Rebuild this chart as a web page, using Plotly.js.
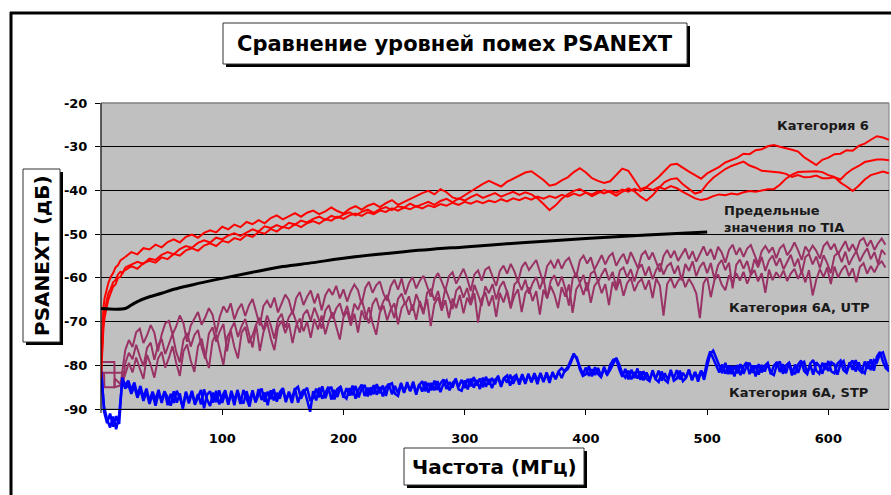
<!DOCTYPE html>
<html>
<head>
<meta charset="utf-8">
<script src="https://cdn.plot.ly/plotly-3.0.1.min.js"></script>
<style>html,body{margin:0;padding:0;background:#fff;}#chart{width:891px;height:495px;}</style>
</head>
<body>
<div id="chart"></div>
<script>
// ---------------- DATA ----------------
const chartTitle = "Сравнение уровней помех PSANEXT";
const xTitle = "Частота (МГц)";
const yTitle = "PSANEXT (дБ)";
const xTickVals = [100, 200, 300, 400, 500, 600];
const yTickVals = [-90, -80, -70, -60, -50, -40, -30, -20];
const seriesLabels = ["Категория 6", "Предельные<br>значения по TIA", "Категория 6A, UTP", "Категория 6A, STP"];

// TIA limit line
const tiaF = [0, 20, 25, 30, 40, 50, 60, 75, 100, 125, 150, 175, 200, 250, 300, 350, 400, 450, 500];
const tiaV = [-67, -67, -66.2, -65.4, -64.3, -63.5, -62.6, -61.6, -60.1, -58.7, -57.4, -56.5, -55.5, -54.0, -52.9, -51.9, -51.0, -50.2, -49.5];

// Category 6 (red): head at fine frequencies, body from 20 MHz in 5 MHz steps
const redHeadF = [0, 1, 2, 3, 4, 5, 6, 8, 10, 12, 14, 16, 18, 20];
const r1Head = [-79.5, -70.5, -66.8, -64.6, -63.2, -62.0, -61.2, -59.8, -58.9, -57.6, -57.1, -56.0, -55.6, -55.2];
const r2Head = [-82, -74, -70, -67.5, -66, -64.5, -63.5, -62.5, -61, -60.5, -59.2, -58.6, -58.9, -57.6];
const r3Head = [-83, -76, -71.5, -69, -67.5, -66, -65, -63.5, -62, -61.5, -60, -59.8, -58.6, -58.2];
const r1 = [
 -55.2,-54.1,-54.6,-53.2,-53.5,-52.4,-53.0,-51.8,-51.2,-51.9,
 -50.6,-50.1,-50.8,-49.7,-49.1,-49.6,-48.3,-48.9,-47.8,-48.4,
 -47.2,-47.7,-46.8,-47.5,-46.3,-45.7,-46.6,-45.9,-45.2,-46.0,
 -45.1,-44.6,-45.4,-44.8,-43.9,-44.7,-45.3,-44.2,-43.6,-44.4,
 -43.5,-43.0,-43.8,-42.9,-42.2,-43.3,-42.6,-41.9,-41.2,-40.6,
 -40.1,-40.9,-39.7,-40.4,-41.6,-42.0,-41.1,-40.2,-39.3,-38.5,
 -37.8,-38.4,-39.1,-38.0,-37.3,-36.6,-35.9,-35.6,-36.5,-37.6,
 -38.9,-38.6,-37.7,-37.0,-35.8,-34.9,-35.9,-37.2,-37.8,-38.3,
 -37.9,-36.4,-35.0,-35.5,-37.6,-39.7,-39.2,-38.1,-36.9,-35.5,
 -34.1,-33.9,-34.9,-35.7,-36.5,-37.3,-36.1,-35.4,-34.6,-33.6,
 -33.0,-32.5,-31.6,-31.7,-30.8,-30.6,-29.9,-29.6,-30.0,-30.3,
 -30.7,-31.1,-32.4,-33.3,-34.2,-33.0,-32.5,-31.7,-31.6,-30.8,
 -30.9,-29.8,-29.3,-28.4,-27.6,-27.9,-28.4];
const r2 = [
 -57.6,-56.9,-56.3,-56.8,-55.6,-55.9,-54.7,-54.1,-54.6,-53.4,
 -52.7,-53.1,-52.0,-51.4,-51.9,-50.8,-51.2,-50.3,-49.8,-50.4,
 -49.6,-48.9,-49.4,-48.2,-48.6,-47.9,-48.5,-47.4,-47.8,-46.9,
 -47.3,-46.5,-46.0,-46.7,-45.8,-46.3,-45.5,-45.0,-45.7,-44.9,
 -44.4,-45.1,-44.3,-43.8,-44.5,-43.6,-43.9,-43.0,-43.7,-43.2,
 -42.6,-43.3,-42.4,-41.9,-42.7,-41.8,-42.3,-41.5,-40.9,-41.7,
 -41.2,-40.6,-41.4,-40.8,-40.3,-41.0,-40.4,-40.9,-41.8,-43.1,
 -44.5,-43.4,-41.9,-40.9,-40.1,-39.7,-40.5,-41.3,-40.6,-39.9,
 -40.4,-41.2,-40.3,-39.5,-40.2,-41.4,-42.3,-41.1,-39.5,-38.1,
 -37.4,-37.2,-38.6,-39.6,-40.7,-40.3,-38.5,-37.1,-36.1,-35.1,
 -34.4,-33.9,-33.4,-34.3,-34.8,-35.5,-35.6,-35.7,-35.9,-36.2,
 -36.9,-36.5,-37.0,-36.9,-36.6,-37.2,-37.2,-37.0,-37.5,-36.1,
 -35.1,-34.4,-33.5,-33.2,-32.9,-32.9,-33.1];
const r3 = [
 -58.2,-57.3,-57.9,-56.6,-56.1,-56.5,-55.3,-55.7,-54.5,-54.9,
 -53.7,-53.2,-53.8,-52.6,-52.1,-52.7,-51.5,-51.9,-50.9,-51.3,
 -50.2,-50.6,-49.5,-49.9,-48.8,-49.4,-48.3,-48.7,-47.7,-48.4,
 -47.5,-47.0,-47.6,-46.6,-46.9,-46.0,-46.5,-45.7,-45.3,-45.8,
 -45.0,-45.4,-44.6,-44.9,-44.1,-44.6,-43.9,-44.3,-43.6,-44.1,
 -43.4,-43.8,-43.1,-43.5,-42.8,-43.3,-42.6,-43.0,-42.4,-42.9,
 -42.3,-42.7,-42.0,-42.5,-41.8,-42.2,-41.6,-42.1,-41.4,-41.9,
 -41.3,-41.7,-41.0,-41.4,-40.7,-41.2,-40.5,-40.9,-40.2,-40.7,
 -40.1,-40.5,-39.8,-40.3,-39.6,-40.1,-39.4,-39.9,-39.2,-39.7,
 -39.0,-39.5,-40.3,-41.1,-41.8,-42.2,-41.9,-41.3,-40.9,-41.1,
 -40.7,-40.9,-40.4,-40.1,-40.3,-40.0,-39.7,-39.7,-38.7,-37.3,
 -36.4,-35.8,-35.7,-35.7,-35.6,-35.8,-36.5,-36.9,-38.2,-39.1,
 -40.1,-38.9,-37.5,-36.5,-36.1,-35.7,-36.1];

// Category 6A UTP (purple): head, then body from 20 MHz in 3 MHz steps
const p1HeadF = [0, 11, 11.3, 16, 20];
const p1Head = [-79.2, -79.2, -85.0, -84.6, -76.5];
const p2HeadF = [0, 18, 18.3, 20];
const p2Head = [-81.7, -81.7, -83.5, -79.5];
const p3HeadF = [2.5, 2.8, 11, 11.3, 17, 20];
const p3Head = [-81.7, -85.0, -85.0, -83.0, -84.5, -82.0];
const p1 = [
 -76.5,-74.2,-75.8,-72.4,-71.6,-74.9,-73.1,-70.8,-72.5,-76.8,
 -73.0,-70.4,-69.8,-72.9,-71.1,-68.6,-70.3,-74.6,-70.9,-69.3,
 -67.8,-70.7,-69.0,-66.9,-68.4,-72.6,-68.8,-66.5,-67.9,-65.8,
 -69.5,-67.2,-65.9,-68.7,-66.3,-64.8,-67.6,-70.9,-66.4,-65.2,
 -66.8,-64.5,-67.9,-65.7,-63.8,-65.1,-68.3,-64.6,-63.2,-66.2,
 -64.3,-62.9,-65.8,-63.6,-67.4,-64.0,-62.5,-63.9,-61.8,-64.7,
 -62.6,-65.4,-63.1,-61.5,-62.8,-66.0,-62.3,-60.9,-63.4,-61.7,
 -60.8,-63.6,-65.2,-61.9,-60.4,-62.7,-60.1,-63.8,-61.2,-59.8,
 -62.4,-60.6,-59.5,-61.9,-64.3,-60.2,-58.9,-60.8,-62.9,-59.6,
 -58.7,-61.3,-59.4,-57.9,-60.1,-63.0,-59.2,-58.3,-60.6,-58.1,
 -57.5,-59.7,-61.8,-58.4,-57.2,-59.0,-56.8,-58.5,-60.9,-57.6,
 -56.4,-58.2,-57.0,-55.9,-58.6,-61.2,-57.3,-56.1,-57.8,-55.7,
 -57.9,-56.2,-55.4,-57.5,-59.8,-56.0,-54.9,-56.7,-55.3,-58.1,
 -56.5,-54.8,-56.9,-55.1,-54.3,-57.2,-55.6,-54.5,-56.8,-54.1,
 -55.9,-57.8,-54.7,-53.9,-55.8,-54.2,-56.4,-58.6,-55.0,-53.6,
 -55.4,-53.8,-56.1,-54.6,-53.3,-55.7,-53.9,-56.3,-54.4,-52.8,
 -54.9,-53.4,-55.8,-52.9,-54.2,-56.5,-53.6,-52.4,-54.7,-53.1,
 -55.2,-53.3,-52.5,-54.6,-56.8,-53.9,-52.7,-54.1,-53.0,-55.5,
 -53.2,-52.4,-54.8,-53.6,-51.9,-53.7,-55.9,-52.8,-54.1,-52.6,
 -53.8,-55.6,-52.7,-51.8,-53.5,-52.2,-54.6,-53.1,-51.6,-53.9,
 -52.3,-54.0,-51.5,-50.9,-52.8,-51.4,-53.6,-52.1,-51.0,-52.4];
const p2 = [
 -79.5,-77.1,-78.6,-75.3,-77.9,-80.2,-76.0,-74.8,-78.7,-75.5,
 -73.9,-77.4,-75.1,-72.8,-76.9,-79.3,-74.2,-72.6,-75.7,-73.1,
 -71.9,-75.8,-78.5,-72.7,-71.3,-74.6,-72.2,-70.5,-76.8,-71.8,
 -70.2,-73.5,-71.0,-69.4,-72.7,-75.9,-70.6,-69.1,-71.9,-68.6,
 -70.8,-73.9,-69.5,-68.2,-71.4,-69.0,-67.6,-70.3,-72.5,-68.4,
 -67.3,-69.8,-66.8,-68.9,-71.6,-67.5,-66.2,-69.3,-67.0,-65.8,
 -68.7,-66.4,-69.9,-65.9,-67.3,-64.9,-68.1,-70.4,-66.0,-64.6,
 -67.4,-65.3,-63.9,-66.6,-69.2,-64.8,-63.6,-66.1,-64.2,-67.5,
 -63.7,-65.9,-68.3,-63.4,-62.6,-65.2,-63.0,-66.8,-62.4,-64.6,
 -67.1,-62.9,-61.9,-64.5,-62.3,-65.7,-61.6,-63.8,-66.4,-61.9,
 -63.5,-61.4,-64.9,-62.0,-60.8,-63.3,-67.0,-61.5,-60.6,-62.8,
 -60.4,-63.6,-61.2,-59.8,-62.6,-60.1,-64.7,-60.6,-59.4,-61.9,
 -59.7,-62.4,-66.3,-60.2,-58.9,-61.1,-59.3,-63.0,-59.0,-58.4,
 -61.0,-59.2,-57.8,-60.5,-58.6,-62.2,-58.3,-57.6,-59.9,-58.0,
 -60.8,-57.9,-56.9,-59.5,-57.4,-60.3,-58.1,-56.7,-59.2,-57.3,
 -56.6,-59.0,-57.2,-60.6,-56.8,-58.4,-56.2,-59.6,-57.5,-56.4,
 -58.9,-56.6,-60.3,-57.1,-55.9,-58.2,-56.5,-62.4,-57.0,-55.8,
 -57.9,-56.1,-59.3,-55.7,-57.6,-55.2,-58.4,-56.0,-54.9,-57.2,
 -55.5,-58.0,-56.3,-54.7,-57.4,-55.6,-59.1,-55.2,-54.5,-56.9,
 -55.1,-57.8,-54.8,-56.6,-58.9,-55.0,-54.2,-56.4,-54.0,-57.0,
 -55.3,-53.9,-56.2,-54.5,-53.2,-55.7,-54.1,-56.8,-53.6,-54.7];
const p3 = [
 -82.0,-79.4,-81.6,-78.2,-80.7,-83.1,-77.6,-79.9,-82.8,-78.5,
 -76.9,-80.5,-78.3,-75.6,-79.4,-82.4,-76.8,-75.2,-78.9,-81.5,
 -75.7,-73.9,-77.8,-80.6,-74.5,-72.8,-76.4,-79.9,-73.6,-72.0,
 -75.8,-78.4,-72.5,-71.2,-74.9,-73.1,-70.6,-76.7,-72.4,-70.1,
 -73.8,-76.5,-71.3,-69.8,-72.6,-70.4,-74.9,-70.9,-69.3,-72.2,
 -70.0,-73.7,-69.4,-71.8,-68.6,-72.9,-69.8,-67.9,-71.1,-74.1,
 -69.0,-67.6,-70.9,-68.2,-72.5,-67.4,-69.6,-66.7,-70.3,-73.0,
 -67.9,-66.3,-69.7,-67.2,-65.8,-70.6,-66.9,-65.5,-68.4,-66.1,
 -69.6,-65.3,-67.8,-64.8,-71.0,-66.0,-64.4,-67.5,-65.1,-69.2,
 -64.7,-66.9,-63.9,-68.1,-64.5,-66.2,-63.5,-70.2,-64.8,-63.3,
 -66.4,-64.0,-68.9,-63.4,-65.6,-62.9,-66.7,-64.1,-62.6,-67.8,
 -63.5,-62.2,-65.3,-63.0,-68.4,-62.7,-64.6,-61.9,-63.8,-66.9,
 -62.1,-64.3,-61.5,-68.0,-62.6,-61.3,-63.9,-61.0,-65.7,-61.8,
 -60.7,-63.5,-61.4,-66.2,-60.9,-62.8,-60.3,-64.1,-61.2,-60.0,
 -63.0,-61.1,-60.2,-62.7,-60.5,-64.6,-60.1,-61.8,-68.6,-61.4,
 -60.0,-62.3,-60.7,-59.6,-62.1,-60.2,-61.6,-63.5,-69.2,-61.3,
 -59.8,-64.4,-60.5,-59.2,-61.5,-62.8,-59.4,-61.1,-58.9,-60.6,
 -58.6,-61.3,-59.3,-58.2,-60.8,-58.9,-63.4,-58.1,-60.5,-58.7,
 -60.0,-58.3,-60.7,-59.0,-57.9,-60.2,-58.5,-61.0,-58.2,-64.0,
 -60.4,-58.0,-59.8,-57.6,-61.4,-57.4,-59.9,-58.2,-57.1,-59.6,
 -57.8,-61.0,-57.5,-56.6,-59.0,-57.3,-58.7,-57.0,-56.2,-57.6];

// Category 6A STP (blue): from 0 MHz in 2.5 MHz steps
const b1 = [
 -80.0,-90.5,-93.2,-91.0,-94.0,-91.6,-93.4,-82.8,-84.6,-83.5,
 -85.6,-83.9,-86.8,-84.7,-87.4,-85.3,-88.2,-86.0,-87.9,-85.6,
 -88.6,-86.1,-87.3,-89.2,-85.9,-88.5,-86.4,-89.9,-86.0,-88.1,
 -85.8,-88.7,-86.6,-88.9,-85.5,-87.8,-89.3,-86.2,-88.4,-85.7,
 -88.6,-86.3,-89.0,-85.8,-87.9,-86.1,-88.8,-85.6,-87.5,-89.4,
 -86.0,-88.3,-85.4,-87.9,-86.2,-89.1,-85.7,-88.0,-86.3,-87.6,
 -85.3,-88.4,-86.0,-87.7,-85.2,-88.5,-86.4,-85.5,-87.9,-90.6,
 -85.9,-88.0,-85.1,-87.6,-86.3,-84.9,-87.8,-85.6,-87.2,-84.8,
 -87.4,-85.2,-86.9,-84.6,-87.6,-85.5,-84.4,-87.0,-85.1,-86.8,
 -84.5,-86.7,-84.9,-87.1,-85.0,-84.2,-86.6,-84.7,-86.3,-84.0,
 -86.1,-84.3,-85.8,-83.7,-86.2,-84.5,-83.6,-85.9,-84.0,-85.7,
 -83.5,-85.6,-84.1,-83.2,-85.4,-83.8,-85.1,-83.0,-84.9,-83.3,
 -85.2,-83.1,-84.8,-82.7,-84.6,-83.0,-85.0,-82.6,-84.4,-82.9,
 -84.3,-82.4,-84.5,-82.8,-83.9,-82.1,-84.2,-82.6,-83.8,-82.0,
 -83.9,-82.2,-83.6,-81.8,-83.4,-82.0,-83.8,-81.6,-83.2,-81.9,
 -83.0,-81.4,-82.9,-81.2,-80.4,-78.9,-77.3,-78.6,-80.3,-82.0,
 -80.5,-82.4,-80.9,-82.2,-80.6,-82.5,-80.8,-82.1,-81.0,-79.6,
 -78.3,-79.8,-81.9,-82.8,-81.2,-83.2,-81.5,-83.0,-81.4,-83.4,
 -81.6,-83.3,-81.5,-83.1,-81.2,-83.5,-81.8,-83.2,-81.4,-82.9,
 -81.1,-83.2,-81.7,-82.8,-81.0,-83.3,-81.6,-82.9,-81.2,-82.4,
 -79.0,-76.8,-78.4,-80.2,-81.6,-79.8,-81.9,-80.0,-82.0,-80.1,
 -81.8,-79.7,-81.9,-80.2,-79.4,-81.7,-80.0,-82.1,-79.9,-81.4,
 -79.6,-82.0,-80.1,-79.2,-81.5,-79.7,-81.8,-79.4,-81.2,-82.0,
 -79.8,-78.9,-81.3,-82.0,-79.6,-78.8,-81.2,-81.9,-79.4,-81.0,
 -79.0,-81.4,-81.8,-79.6,-78.9,-81.1,-81.7,-79.3,-81.0,-78.8,
 -80.9,-81.6,-79.1,-80.8,-78.6,-81.2,-78.0,-76.9,-79.1,-80.7,
 -81.2];
const b2 = [
 -81.5,-89.4,-92.3,-94.2,-91.7,-94.6,-91.2,-83.6,-85.3,-84.4,
 -86.5,-84.8,-87.4,-85.5,-88.1,-86.0,-88.8,-86.6,-89.2,-86.3,
 -87.9,-85.9,-89.1,-86.5,-88.6,-85.8,-87.4,-89.5,-86.3,-88.7,
 -86.1,-89.0,-87.2,-85.6,-89.8,-86.7,-85.9,-88.5,-85.8,-88.9,
 -87.0,-85.7,-88.6,-86.4,-89.1,-85.6,-87.8,-88.7,-85.9,-88.2,
 -85.7,-88.5,-86.6,-85.3,-88.3,-86.0,-87.7,-85.4,-88.3,-86.1,
 -85.2,-88.0,-86.3,-88.6,-85.5,-84.9,-87.6,-86.0,-85.1,-87.9,
 -87.5,-85.3,-87.3,-84.8,-87.5,-85.6,-84.9,-87.8,-85.4,-84.9,
 -86.9,-87.6,-85.2,-86.8,-84.7,-87.3,-85.3,-84.5,-87.1,-85.0,
 -86.6,-84.3,-86.4,-84.6,-87.0,-84.4,-84.1,-86.5,-87.0,-84.3,
 -86.3,-83.8,-85.9,-84.2,-86.7,-84.3,-86.0,-83.7,-86.2,-84.0,
 -85.7,-83.6,-86.1,-84.1,-83.4,-85.7,-84.0,-83.3,-85.5,-85.8,
 -83.4,-85.5,-83.0,-85.1,-83.3,-85.4,-82.8,-84.9,-83.1,-85.2,
 -83.3,-82.6,-84.9,-82.9,-82.3,-84.6,-82.7,-82.2,-84.4,-82.4,
 -84.2,-81.9,-83.9,-82.2,-84.3,-81.7,-83.6,-82.0,-84.0,-81.5,
 -83.2,-81.3,-80.6,-81.4,-80.8,-79.4,-77.6,-78.2,-80.9,-82.4,
 -82.0,-80.2,-82.5,-80.4,-82.0,-82.7,-80.3,-82.2,-79.9,-78.7,
 -78.5,-80.9,-82.6,-80.8,-83.2,-81.0,-82.9,-80.7,-83.3,-81.3,
 -83.1,-83.6,-81.1,-83.2,-83.8,-81.4,-83.3,-83.9,-81.0,-83.5,
 -83.0,-81.2,-83.6,-82.9,-81.0,-83.4,-81.5,-83.7,-81.3,-83.3,
 -80.2,-77.4,-76.6,-78.2,-80.0,-81.8,-79.4,-82.0,-80.1,-82.5,
 -79.9,-82.2,-80.2,-79.3,-82.0,-80.0,-82.5,-79.7,-81.6,-80.1,
 -79.4,-81.8,-82.2,-79.9,-79.1,-81.9,-80.0,-79.4,-82.3,-79.8,
 -81.7,-79.7,-79.2,-81.8,-79.9,-82.1,-79.3,-80.1,-81.9,-79.5,
 -81.3,-79.3,-79.8,-82.1,-79.6,-79.0,-81.5,-79.7,-78.9,-81.4,
 -79.3,-81.2,-81.8,-79.1,-81.1,-78.8,-79.3,-77.4,-77.0,-79.2,
 -81.5];

// ---------------- STYLE / LAYOUT ----------------
const RED = '#FF0000', PURPLE = '#993366', BLUE = '#0000FF', BLACK = '#000000';
const FONT = 'DejaVu Sans';

// plot area in pixels
const PL = 101, PR = 889, PT = 103, PB = 431;
const px = p => (p - PL) / (PR - PL);
const py = p => (PB - p) / (PB - PT);

const traces = [];
function addTrace(obj, color, width) {
  traces.push(Object.assign({type: 'scatter', mode: 'lines', hoverinfo: 'skip',
    line: {color: color, width: width}}, obj));
}
addTrace({x: p1HeadF, y: p1Head}, PURPLE, 2);
addTrace({x: p2HeadF, y: p2Head}, PURPLE, 2);
addTrace({x: p3HeadF, y: p3Head}, PURPLE, 2);
addTrace({x0: 20, dx: 3, y: p3}, PURPLE, 2);
addTrace({x0: 20, dx: 3, y: p2}, PURPLE, 2);
addTrace({x0: 20, dx: 3, y: p1}, PURPLE, 2);
addTrace({x0: 0, dx: 2.5, y: b2}, BLUE, 2.5);
addTrace({x0: 0, dx: 2.5, y: b1}, BLUE, 2.5);
addTrace({x: redHeadF, y: r3Head}, RED, 2);
addTrace({x: redHeadF, y: r2Head}, RED, 2);
addTrace({x: redHeadF, y: r1Head}, RED, 2);
addTrace({x0: 20, dx: 5, y: r3}, RED, 2);
addTrace({x0: 20, dx: 5, y: r2}, RED, 2);
addTrace({x0: 20, dx: 5, y: r1}, RED, 2);
addTrace({x: tiaF, y: tiaV, line: {color: BLACK, width: 3, shape: 'spline'}}, BLACK, 3);

function rectPx(x0, y0, x1, y1, fill, lineColor, lw, layer) {
  return {type: 'rect', xref: 'paper', yref: 'paper', layer: layer || 'above',
    x0: px(x0), x1: px(x1), y0: py(y1), y1: py(y0),
    fillcolor: fill, line: {color: lineColor || 'rgba(0,0,0,0)', width: lw || 0}};
}
function linePx(x0, y0, x1, y1, color, w, layer) {
  return {type: 'line', xref: 'paper', yref: 'paper', layer: layer || 'above',
    x0: px(x0), x1: px(x1), y0: py(y0), y1: py(y1), line: {color: color, width: w}};
}

const shapes = [
  rectPx(PL, PT, PR, 409, '#C0C0C0', '#808080', 1, 'below'),
  linePx(PL, PT, PR, PT, '#808080', 1),
  linePx(PL, PT, PL, 413, BLACK, 1),
  linePx(10, 13, 891, 13, BLACK, 3),
  linePx(11, 12, 11, 495, BLACK, 3),
  rectPx(226, 26, 690, 67, BLACK),
  rectPx(223, 23, 687, 64, '#FFFFFF', '#333333', 1),
  rectPx(26, 172, 63, 345, BLACK),
  rectPx(23, 169, 60, 342, '#FFFFFF', '#333333', 1),
  rectPx(407, 451, 587, 488, BLACK),
  rectPx(404, 448, 584, 485, '#FFFFFF', '#333333', 1)
];

function ann(text, x, y, size, opts) {
  return Object.assign({text: '<b>' + text + '</b>', xref: 'paper', yref: 'paper', x: px(x), y: py(y),
    xanchor: 'center', yanchor: 'middle', showarrow: false,
    font: {family: FONT, size: size, color: '#000'}}, opts || {});
}
const lblFont = {family: FONT, size: 13, color: '#1a1a1a'};
const annotations = [
  ann(chartTitle, 455, 43.5, 21),
  ann(yTitle, 41.5, 255.5, 20, {textangle: -90}),
  ann(xTitle, 494, 466.5, 20),
  ann(seriesLabels[0], 775, 126, 13, {xanchor: 'left', font: lblFont}),
  ann(seriesLabels[1], 722, 219, 13, {xanchor: 'left', align: 'left', font: lblFont}),
  ann(seriesLabels[2], 727, 307, 13, {xanchor: 'left', font: lblFont}),
  ann(seriesLabels[3], 727, 392, 13, {xanchor: 'left', font: lblFont})
];

const layout = {
  width: 891, height: 495,
  font: {family: FONT, size: 13, color: '#000000'},
  margin: {l: PL, r: 891 - PR, t: PT, b: 495 - PB, pad: 0},
  paper_bgcolor: '#FFFFFF', plot_bgcolor: 'rgba(0,0,0,0)',
  showlegend: false, hovermode: false,
  xaxis: {range: [0, 650], tickmode: 'array', tickvals: xTickVals, ticktext: xTickVals.map(v => '<b>' + v + '</b>'),
    anchor: 'free', position: 5 / 75, side: 'bottom',
    ticks: 'outside', ticklen: 5, tickcolor: BLACK, tickwidth: 1,
    showline: true, linecolor: BLACK, linewidth: 1, showgrid: false, zeroline: false,
    ticklabelstandoff: 12, color: '#000000',
    tickfont: {family: FONT, size: 13, color: '#000000', weight: 'bold'}},
  yaxis: {range: [-95, -20], tickmode: 'array', tickvals: yTickVals, ticktext: yTickVals.map(v => '<b>' + v + '</b>'),
    ticks: 'outside', ticklen: 5, tickcolor: BLACK, tickwidth: 1,
    showline: false, showgrid: true, gridcolor: BLACK, gridwidth: 1, zeroline: false,
    ticklabelstandoff: 5, color: '#000000',
    tickfont: {family: FONT, size: 13, color: '#000000', weight: 'bold'}},
  shapes: shapes,
  annotations: annotations
};

Plotly.newPlot('chart', traces, layout, {staticPlot: true, displayModeBar: false});
</script>
</body>
</html>
